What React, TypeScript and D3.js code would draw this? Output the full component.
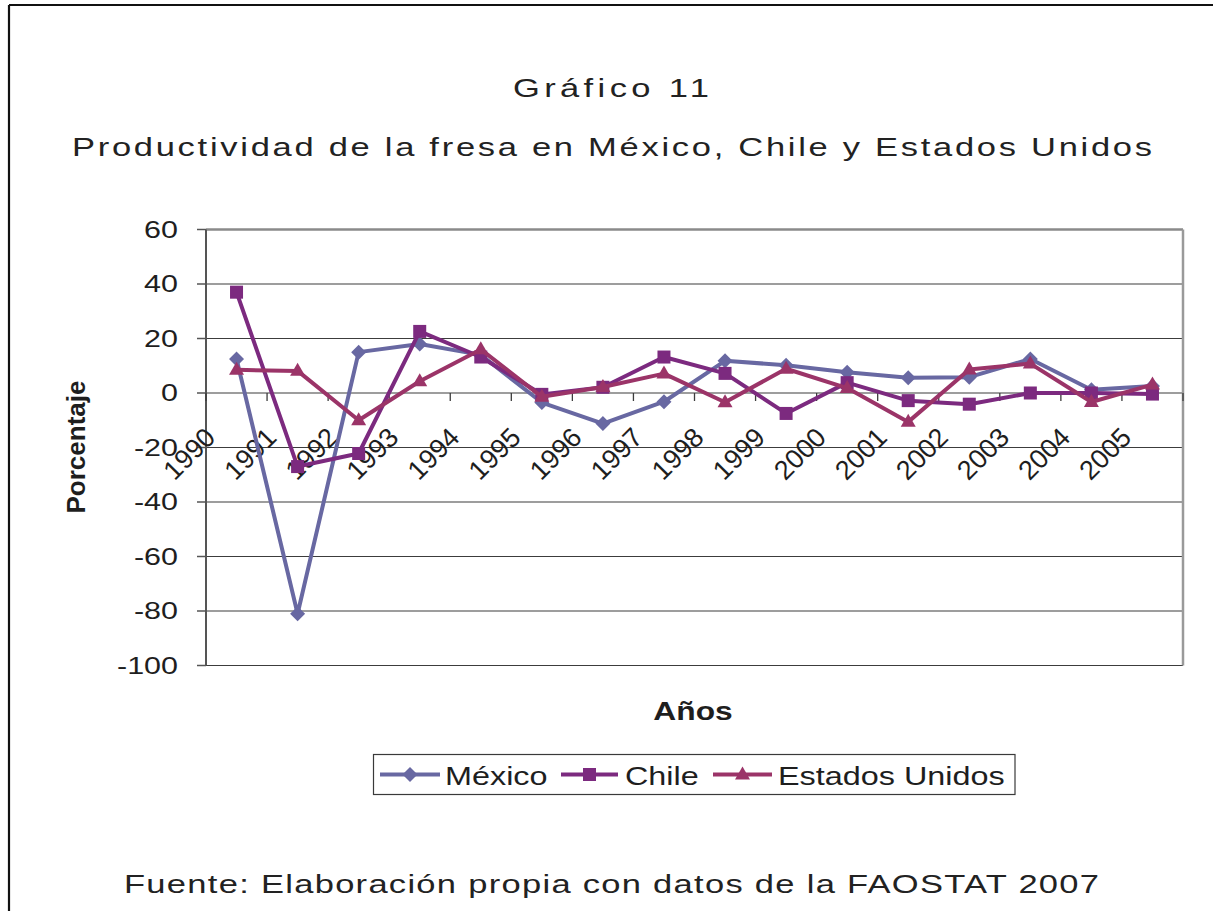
import React from "react";
import * as d3 from "d3";

const years = ["1990","1991","1992","1993","1994","1995","1996","1997","1998","1999","2000","2001","2002","2003","2004","2005"];
const mexico = [12.5, -81, 15, 18, 14, -3.5, -11.2, -3.2, 11.8, 10.2, 7.6, 5.6, 5.8, 12.5, 1.2, 2.6];
const chile = [37, -27, -22.2, 22.6, 13.2, -0.5, 2.1, 13.2, 7.2, -7.5, 3.8, -2.8, -4.1, 0, 0, -0.4];
const estadosUnidos = [8.5, 8.1, -10, 4.3, 16, -1.4, 2.2, 7.1, -3.4, 8.9, 1.8, -10.6, 8.6, 10.8, -3.3, 3.1];
const yTicks = [60, 40, 20, 0, -20, -40, -60, -80, -100];
const seriesNames = ["México", "Chile", "Estados Unidos"];

const W = 1213, H = 911;
const FONT = "'Liberation Sans', Arial, sans-serif";
const SX = 1.27;

const x = d3.scaleBand<string>().domain(years).range([206, 1183]).paddingInner(0).paddingOuter(0);
const y = d3.scaleLinear().domain([-100, 60]).range([665.5, 229.5]);

const colors = ["#6868a2", "#7c2a7f", "#9b3468"];
const series = [mexico, chile, estadosUnidos];

function Marker({ kind, cx, cy, color }: { kind: number; cx: number; cy: number; color: string }) {
  if (kind === 0) {
    const r = 7.5;
    return <path d={`M${cx},${cy - r}L${cx + r},${cy}L${cx},${cy + r}L${cx - r},${cy}Z`} fill={color} />;
  }
  if (kind === 1) {
    const s = 13;
    return <rect x={cx - s / 2} y={cy - s / 2} width={s} height={s} fill={color} />;
  }
  const s = 15;
  const h = s * 0.866;
  return <path d={`M${cx},${cy - h * 0.62}L${cx + s / 2},${cy + h * 0.38}L${cx - s / 2},${cy + h * 0.38}Z`} fill={color} />;
}

function SText({ x: tx, y: ty, children, anchor = "start", size = 25, weight = "normal", baseline = "auto", sx = SX }: any) {
  return (
    <text
      transform={`translate(${tx},${ty}) scale(${sx},1)`}
      textAnchor={anchor}
      fontSize={size}
      fontWeight={weight}
      fontFamily={FONT}
      dominantBaseline={baseline}
      fill="#1e1e1e"
    >
      {children}
    </text>
  );
}

function SpacedText({ x: tx, y: ty, len, children }: any) {
  const sx = 1.38;
  return (
    <text
      transform={`translate(${tx},${ty}) scale(${sx},1)`}
      fontSize={25}
      fontFamily={FONT}
      fill="#222"
      textLength={len / sx}
      lengthAdjust="spacing"
    >
      {children}
    </text>
  );
}

export default function App() {
  const line = d3
    .line<number>()
    .x((_, i) => (x(years[i]) as number) + x.bandwidth() / 2)
    .y((d) => y(d));
  const left = x.range()[0];
  const right = x.range()[1];
  const zeroY = y(0);
  const bounds = d3.range(years.length + 1).map((i) => left + i * x.step());

  const legendItems = [
    { lx1: 380, lx2: 440, tx: 445 },
    { lx1: 561, lx2: 618, tx: 625 },
    { lx1: 713, lx2: 772, tx: 778 },
  ];

  return (
    <svg width={W} height={H} style={{ position: "absolute", left: 0, top: 0, background: "#fff" }}>
      <rect x={0} y={0} width={W} height={H} fill="#fff" />
      {/* outer frame */}
      <line x1={9} y1={5} x2={W} y2={5} stroke="#111" strokeWidth={2.2} />
      <line x1={9} y1={5} x2={9} y2={H} stroke="#111" strokeWidth={2.2} />

      {/* titles */}
      <SpacedText x={513} y={97} len={196}>Gráfico 11</SpacedText>
      <SpacedText x={72} y={156} len={1080}>Productividad de la fresa en México, Chile y Estados Unidos</SpacedText>
      <SpacedText x={124} y={893} len={975}>Fuente: Elaboración propia con datos de la FAOSTAT 2007</SpacedText>

      {/* gridlines */}
      {yTicks.map((t) => (
        <line
          key={"g" + t}
          x1={left}
          x2={right}
          y1={y(t)}
          y2={y(t)}
          stroke={t === 60 ? "#8a8a8a" : "#3c3c3c"}
          strokeWidth={t === 60 ? 2.5 : 1.2}
        />
      ))}
      {/* right border */}
      <line x1={right} x2={right} y1={y(60)} y2={y(-100)} stroke="#9a9a9a" strokeWidth={2.5} />
      {/* y axis */}
      <line x1={left} x2={left} y1={y(60)} y2={y(-100)} stroke="#555" strokeWidth={2} />
      {yTicks.map((t) => (
        <g key={"t" + t}>
          <line x1={left - 9} x2={left} y1={y(t)} y2={y(t)} stroke="#555" strokeWidth={1.5} />
          <SText x={178} y={y(t)} anchor="end" size={24} baseline="central">
            {String(t)}
          </SText>
        </g>
      ))}
      {/* x axis ticks at zero */}
      {bounds.map((b, i) => (
        <line key={"xt" + i} x1={b} x2={b} y1={zeroY} y2={zeroY + 8} stroke="#3c3c3c" strokeWidth={1.3} />
      ))}
      {years.map((yr) => {
        const bx = (x(yr) as number) + 11;
        const by = zeroY + 46;
        return (
          <text
            key={"yl" + yr}
            transform={`translate(${bx},${by}) rotate(-45)`}
            textAnchor="end"
            fontSize={27}
            fontFamily={FONT}
            fill="#1e1e1e"
          >
            {yr}
          </text>
        );
      })}

      {/* series */}
      {series.map((s, k) => (
        <g key={"s" + k}>
          <path d={line(s) as string} fill="none" stroke={colors[k]} strokeWidth={4} strokeLinejoin="round" />
          {s.map((v, i) => (
            <Marker
              key={i}
              kind={k}
              cx={(x(years[i]) as number) + x.bandwidth() / 2}
              cy={y(v)}
              color={colors[k]}
            />
          ))}
        </g>
      ))}

      {/* axis titles */}
      <text
        transform={`translate(85,447) rotate(-90)`}
        textAnchor="middle"
        fontSize={26}
        fontWeight="bold"
        fontFamily={FONT}
        fill="#1e1e1e"
      >
        Porcentaje
      </text>
      <SText x={693} y={720} anchor="middle" size={25} weight="bold">
        Años
      </SText>

      {/* legend */}
      <rect x={373.5} y={754.5} width={641.5} height={40} fill="#fff" stroke="#3a3a3a" strokeWidth={1.2} />
      {seriesNames.map((n, k) => {
        const it = legendItems[k];
        const cy = 774.5;
        return (
          <g key={"lg" + k}>
            <line x1={it.lx1} x2={it.lx2} y1={cy} y2={cy} stroke={colors[k]} strokeWidth={4} />
            <Marker kind={k} cx={(it.lx1 + it.lx2) / 2} cy={cy} color={colors[k]} />
            <SText x={it.tx} y={784.5} size={25.5}>
              {n}
            </SText>
          </g>
        );
      })}
    </svg>
  );
}
